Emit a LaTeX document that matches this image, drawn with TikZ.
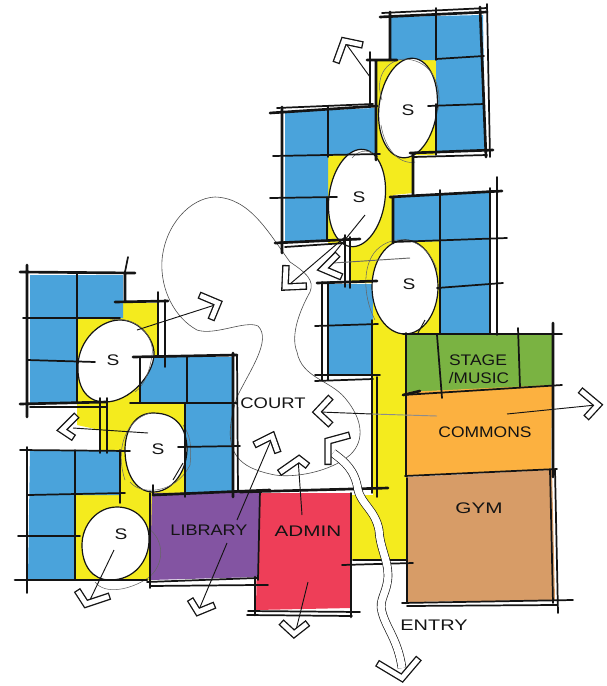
\documentclass[tikz,border=0pt]{standalone}
\usepackage{fontspec}
\setmainfont{Liberation Sans}
\definecolor{cblue}{HTML}{4AA3DB}
\definecolor{cyel}{HTML}{F4EB1E}
\definecolor{cgreen}{HTML}{7AB342}
\definecolor{corange}{HTML}{FCB140}
\definecolor{ctan}{HTML}{D79C67}
\definecolor{cred}{HTML}{EE3E58}
\definecolor{cpurp}{HTML}{8354A2}
\definecolor{ink}{HTML}{141414}
\tikzset{
  wall/.style={draw=ink,line width=2pt,line cap=round},
  grid line/.style={draw=ink,line width=1.3pt,line cap=round},
  fine/.style={draw=ink,line width=0.45pt},
  ghost/.style={draw=black!60,line width=0.4pt},
  shaft/.style={draw=ink,line width=0.7pt},
  chev outer/.style={draw=ink,line width=5.6pt,line join=miter},
  chev inner/.style={draw=white,line width=3.6pt,line join=miter,shorten <=1pt,shorten >=1pt},
  stair/.style={fill=white,draw=ink,line width=0.9pt},
  lbl/.style={inner sep=0pt,text=ink,font=\fontsize{11.5}{12}\selectfont}
}
\newcommand{\widelbl}[2]{\scalebox{#1}[1]{#2}}
\newcommand{\chevron}[3]{\draw[chev outer] #1 -- #2 -- #3; \draw[chev inner] #1 -- #2 -- #3;}
\begin{document}
\begin{tikzpicture}[x=0.75pt,y=-0.75pt]
\useasboundingbox (0,0) rectangle (607,686);
% yellow circulation
\fill[cyel] (376,60) -- (436,60) -- (436,155) -- (413,155) -- (413,193) -- (393,195) -- (393,240) -- (440,240) -- (440,335) -- (406,335) -- (406,560) -- (352,560) -- (352,495) -- (373,495) -- (373,283) -- (350,283) -- (350,243) -- (328,243) -- (328,155) -- (376,155) -- cycle;
\fill[cyel] (77,318) -- (123,318) -- (123,303) -- (158,303) -- (158,357) -- (140,357) -- (140,403) -- (185,403) -- (185,493) -- (152,493) -- (152,580) -- (75,580) -- (75,495) -- (120,495) -- (120,450) -- (100,450) -- (100,430) -- (77,425) -- cycle;
% blue rooms
\fill[cblue] (390,17) -- (483,15) -- (485,150) -- (436,152) -- (436,60) -- (390,60) -- cycle;
\fill[cblue] (285,112) -- (375,108) -- (375,155) -- (328,155) -- (328,241) -- (285,243) -- cycle;
\fill[cblue] (393,197) -- (490,192) -- (491,333) -- (440,333) -- (440,241) -- (393,243) -- cycle;
\fill[cblue] (327,284) -- (373,284) -- (373,375) -- (327,375) -- cycle;
\fill[cblue] (30,275) -- (123,275) -- (123,318) -- (77,318) -- (77,403) -- (30,403) -- cycle;
\fill[cblue] (140,357) -- (233,357) -- (233,493) -- (185,493) -- (185,403) -- (140,403) -- cycle;
\fill[cblue] (30,450) -- (120,451) -- (120,495) -- (75,495) -- (75,580) -- (28,580) -- cycle;
% coloured programme rooms
\fill[cgreen] (406,335) -- (553,335) -- (552,386) -- (406,392) -- cycle;
\fill[corange] (406,392) -- (552,385) -- (551,470) -- (406,476) -- cycle;
\fill[ctan] (406,477) -- (552,470) -- (555,600) -- (407,602) -- cycle;
\fill[cred] (258,493) -- (351,493) -- (351,608) -- (256,610) -- cycle;
\fill[cpurp] (152,493) -- (260,492) -- (258,577) -- (150,580) -- cycle;
% court outline
\draw[fine,draw=black!70] (240,460) .. controls (225,445) and (230,420) .. (237,397) .. controls (250,370) and (272,340) .. (258,326) .. controls (245,320) and (215,336) .. (197,330) .. controls (175,318) and (160,290) .. (162,260) .. controls (165,225) and (190,198) .. (215,197) .. controls (250,198) and (268,232) .. (290,262) .. controls (305,272) and (315,280) .. (310,292) .. controls (300,310) and (290,335) .. (297,352) .. controls (302,378) and (330,380) .. (345,398) .. controls (362,418) and (366,440) .. (350,455) .. controls (330,472) and (295,478) .. (275,475) .. controls (260,472) and (248,468) .. (240,460);
% stair halls
\draw[stair,rotate around={-7:(408,108)}] (408,108) ellipse [x radius=29,y radius=50];
\draw[stair,rotate around={-8:(357,198)}] (357,198) ellipse [x radius=28,y radius=49];
\draw[stair] (405,287) ellipse [x radius=33,y radius=47];
\draw[stair] (120,320) .. controls (140,320) and (155,340) .. (154,355) .. controls (153,375) and (130,402) .. (105,402) .. controls (85,402) and (77,385) .. (78,365) .. controls (79,340) and (100,320) .. (120,320) -- cycle;
\draw[stair] (153,413) .. controls (178,413) and (187,430) .. (187,450) .. controls (186,475) and (170,492) .. (153,492) .. controls (135,492) and (125,472) .. (125,450) .. controls (125,430) and (135,413) .. (153,413) -- cycle;
\draw[stair] (117,507) .. controls (135,507) and (150,520) .. (149,540) .. controls (149,560) and (135,580) .. (110,580) .. controls (92,580) and (82,565) .. (82,545) .. controls (82,525) and (97,507) .. (117,507) -- cycle;
% ghost lines around stair halls
\draw[ghost] (382,100) .. controls (372,70) and (395,55) .. (412,60) .. controls (435,65) and (442,90) .. (438,110);
\draw[ghost] (381,125) .. controls (385,150) and (400,165) .. (415,162);
\draw[ghost] (352,158) .. controls (360,148) and (372,150) .. (378,157);
\draw[ghost] (375,320) .. controls (362,295) and (362,260) .. (380,247) .. controls (395,235) and (425,235) .. (437,270);
\draw[ghost] (110,320) .. controls (140,315) and (155,340) .. (152,355) .. controls (150,370) and (145,385) .. (135,392);
\draw[ghost] (125,480) .. controls (115,450) and (125,420) .. (150,413) ;
\draw[ghost] (130,482) .. controls (140,495) and (175,495) .. (190,465) .. controls (192,445) and (190,435) .. (183,425);
\draw[ghost] (148,528) .. controls (165,540) and (165,565) .. (148,578) .. controls (130,590) and (105,595) .. (95,582);
% walls: NE wing
\draw[wall] (380,17) -- (487,12) (390,12) -- (390,60) (480,7) -- (486,157) (410,153) -- (493,150) (367,60) -- (397,60) (376,60) -- (376,160) (413,153) -- (413,195);
\draw[grid line] (382,13) -- (487,8) (487,4) -- (490,157) (413,157) -- (487,155) (370,52) -- (370,107);
\draw[grid line] (436,8) -- (436,60) (436,104) -- (436,155) (436,59) -- (484,56) (428,106) -- (484,104);
% walls: N wing
\draw[wall] (270,113) -- (377,106) (282,107) -- (282,253) (275,243) -- (360,239);
\draw[grid line] (277,108) -- (373,104) (273,156) -- (380,154) (270,198) -- (337,197) (328,107) -- (328,157) (327,197) -- (327,240) (285,247) -- (345,243);
% walls: E wing
\draw[wall] (390,197) -- (502,191) (393,197) -- (393,243);
\draw[grid line] (440,190) -- (440,333) (490,188) -- (490,333) (497,177) -- (497,335) (393,242) -- (507,238) (437,288) -- (503,283);
% walls: small block
\draw[wall] (317,283) -- (377,281);
\draw[grid line] (345,235) -- (345,287) (350,237) -- (350,288) (322,282) -- (322,380) (328,282) -- (328,380) (315,326) -- (378,324) (315,375) -- (380,375) (315,381) -- (373,379) (372,320) -- (372,493) (377,377) -- (377,497);
% walls: court south edge and admin
\draw[wall] (153,495) -- (270,490) (240,492) -- (388,488);
\draw[wall] (351,540) -- (351,617) (255,577) -- (255,615);
\draw[grid line] (260,490) -- (258,580) (351,493) -- (351,540) (248,611) -- (360,612) (255,585) -- (268,585) (247,615) -- (352,616);
% walls: programme block
\draw[grid line] (406,333) -- (406,476) (407,478) -- (407,603) (403,334) -- (562,334) (437,335) -- (442,398) (518,328) -- (520,387);
\draw[wall] (553,323) -- (553,477) (403,395) -- (420,391);
\draw[grid line] (403,395) -- (562,385) (405,476) -- (557,469) (550,470) -- (553,603) (555,470) -- (558,613) (402,603) -- (573,600) (407,606) -- (557,605);
\draw[grid line] (342,565) -- (413,563) (353,560) -- (407,560);
% walls: W wing north
\draw[wall] (20,272) -- (135,273) (27,265) -- (27,417) (125,272) -- (125,302) (115,302) -- (168,301) (20,404) -- (107,402);
\draw[grid line] (128,257) -- (125,272) (23,318) -- (120,318) (27,360) -- (95,362) (77,273) -- (77,402) (30,407) -- (107,407) (158,292) -- (158,357) (165,300) -- (165,367);
% walls: W wing middle
\draw[wall] (133,357) -- (237,355) (233,353) -- (233,497);
\draw[grid line] (140,357) -- (140,403) (130,403) -- (237,403) (187,357) -- (187,403) (185,403) -- (185,497) (178,447) -- (240,446) (237,355) -- (238,492);
\draw[grid line] (100,398) -- (100,453) (107,398) -- (107,453);
% walls: W wing south
\draw[grid line] (20,450) -- (130,451) (27,447) -- (27,593) (28,495) -- (125,493) (75,450) -- (75,580) (18,536) -- (80,536) (120,450) -- (120,503) (153,485) -- (153,495) (150,493) -- (150,588);
\draw[wall] (15,580) -- (147,580);
\draw[grid line] (147,582) -- (257,578) (150,586) -- (257,585);
% shafts
\draw[shaft] (370,77) -- (344,41);
\draw[shaft] (345,237) -- (283,290);
\draw[shaft] (365,215) -- (327,262);
\draw[shaft,draw=black!60] (333,263) -- (410,258);
\draw[shaft] (137,330) -- (218,304);
\draw[shaft] (73,428) -- (148,433);
\draw[shaft] (114,550) -- (88,604);
\draw[shaft] (227,543) -- (198,612);
\draw[shaft] (237,520) -- (272,438);
\draw[shaft] (302,515) -- (298,458);
\draw[shaft] (320,412) -- (372,414);
\draw[shaft,draw=black!45] (372,414) -- (437,416);
\draw[shaft] (507,414) -- (596,405);
\draw[shaft] (308,582) -- (295,634);
% short strokes inside halls
\draw[shaft] (173,480) -- (183,463);
\draw[shaft] (418,333) -- (425,320);
% entry path
\draw[draw=ink,line width=0.5pt,double=white,double distance=5.5pt] (333,453) .. controls (345,462) and (355,470) .. (358,490) .. controls (362,505) and (375,510) .. (379,530) .. controls (380,548) and (388,560) .. (388,575) .. controls (388,592) and (378,600) .. (382,612) .. controls (386,628) and (398,640) .. (402,668);
% chevrons
\chevron{(363,45)}{(344,41)}{(336,63)}
\chevron{(286,265)}{(285,287)}{(307,286)}
\chevron{(338,254)}{(323,269)}{(342,277)}
\chevron{(199,295)}{(218,303)}{(211,320)}
\chevron{(77,415)}{(62,430)}{(74,438)}
\chevron{(77,590)}{(86,604)}{(110,596)}
\chevron{(190,599)}{(198,612)}{(215,605)}
\chevron{(254,445)}{(272,436)}{(278,453)}
\chevron{(279,473)}{(299,459)}{(308,466)}
\chevron{(350,435)}{(328,441)}{(328,465)}
\chevron{(377,663)}{(402,678)}{(419,658)}
\chevron{(331,397)}{(317,412)}{(331,425)}
\chevron{(580,390)}{(598,405)}{(586,418)}
\chevron{(281,622)}{(294,634)}{(308,623)}
% labels
\node[lbl] (court) at (273,403) {\widelbl{1.2}{COURT}};
\node[lbl] (commons) at (485,432) {\widelbl{1.14}{COMMONS}};
\node[lbl] (gym) at (479,508) {\widelbl{1.35}{GYM}};
\node[lbl] (admin) at (308,531) {\widelbl{1.35}{ADMIN}};
\node[lbl] (library) at (209,530) {\widelbl{1.18}{LIBRARY}};
\node[lbl] (stage) at (478,360) {\widelbl{1.14}{STAGE}};
\node[lbl] (music) at (479,378) {\widelbl{1.12}{/MUSIC}};
\node[lbl] (entry) at (434,625) {\widelbl{1.3}{ENTRY}};
\node[lbl] (s1) at (408,110) {\widelbl{1.25}{S}};
\node[lbl] (s2) at (359,197) {\widelbl{1.25}{S}};
\node[lbl] (s3) at (409,284) {\widelbl{1.25}{S}};
\node[lbl] (s4) at (113,360) {\widelbl{1.25}{S}};
\node[lbl] (s5) at (158,449) {\widelbl{1.25}{S}};
\node[lbl] (s6) at (121,534) {\widelbl{1.25}{S}};
\end{tikzpicture}
\end{document}
